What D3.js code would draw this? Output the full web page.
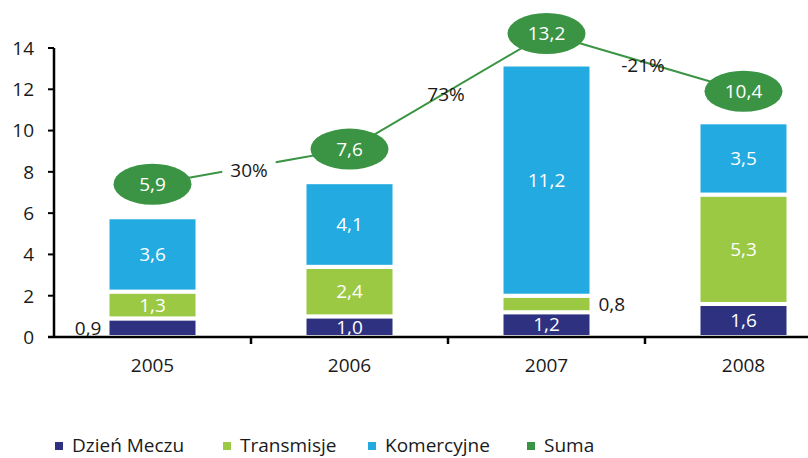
<!DOCTYPE html>
<html>
<head>
<meta charset="utf-8">
<script src="https://cdn.jsdelivr.net/npm/d3@7"></script>
<style>
  body { margin: 0; background: #fff; }
  svg { display: block; font-family: "Open Sans", "Noto Sans", sans-serif; }
</style>
</head>
<body>
<svg width="808" height="458"></svg>
<script>
// chart values
const years = ["2005", "2006", "2007", "2008"];
const dzienMeczu = [0.9, 1.0, 1.2, 1.6];
const transmisje = [1.3, 2.4, 0.8, 5.3];
const komercyjne = [3.6, 4.1, 11.2, 3.5];
const suma = [5.9, 7.6, 13.2, 10.4];
const growth = ["30%", "73%", "-21%"];
const yTicks = [0, 2, 4, 6, 8, 10, 12, 14];
const seriesNames = ["Dzień Meczu", "Transmisje", "Komercyjne", "Suma"];

const colors = {
    "Dzień Meczu": "#2e3180",
    "Transmisje": "#9bc943",
    "Komercyjne": "#22aae1",
    "Suma": "#3a9444"
};
// small segments get their label outside the bar
const outsideSide = { "Dzień Meczu": "left", "Transmisje": "right" };

const fs = "19px";
const svg = d3.select("svg");
const x0 = 54, x1 = 842, yBottom = 337, yTop = 48;

const x = d3.scaleBand().domain(years).range([x0, x1]).padding(0);
const y = d3.scaleLinear().domain([0, 14]).range([yBottom, yTop]);

const rows = years.map((yr, i) => ({
    year: yr,
    "Dzień Meczu": dzienMeczu[i],
    "Transmisje": transmisje[i],
    "Komercyjne": komercyjne[i]
}));
const stack = d3.stack().keys(seriesNames.slice(0, 3))(rows);

const barW = 90;

// bars
const layers = svg.append("g").selectAll("g")
    .data(stack)
    .enter().append("g")
    .attr("fill", d => colors[d.key]);

layers.selectAll("rect")
    .data(d => d)
    .enter().append("rect")
    .attr("x", d => x(d.data.year) + x.bandwidth() / 2 - barW / 2)
    .attr("width", barW)
    .attr("y", d => y(d[1]))
    .attr("height", d => y(d[0]) - y(d[1]))
    .attr("stroke", "#fff")
    .attr("stroke-width", 4);

// segment labels
stack.forEach(layer => {
    layer.forEach(d => {
        const v = d[1] - d[0];
        const cx = x(d.data.year) + x.bandwidth() / 2;
        const cy = (y(d[0]) + y(d[1])) / 2;
        const t = svg.append("text")
            .attr("y", cy)
            .attr("dy", "0.36em")
            .style("font-size", fs)
            .text(d3.format(".1f")(v).replace(".", ","));
        if (v < 1) {
            const side = outsideSide[layer.key];
            t.attr("x", side === "left" ? cx - barW / 2 - 6 : cx + barW / 2 + 7)
             .attr("text-anchor", side === "left" ? "end" : "start")
             .attr("fill", "#1a1a1a");
        } else {
            t.attr("x", cx).attr("text-anchor", "middle").attr("fill", "#fff");
        }
    });
});

// axes
svg.append("line")
    .attr("x1", x0).attr("x2", x0)
    .attr("y1", y(14)).attr("y2", yBottom)
    .attr("stroke", "#000").attr("stroke-width", 2.5);
svg.append("line")
    .attr("x1", x0 - 6).attr("x2", 808)
    .attr("y1", yBottom).attr("y2", yBottom)
    .attr("stroke", "#000").attr("stroke-width", 2.5);

svg.selectAll(".ytick")
    .data(yTicks)
    .enter().append("line")
    .attr("x1", x0 - 6).attr("x2", x0)
    .attr("y1", d => y(d)).attr("y2", d => y(d))
    .attr("stroke", "#000").attr("stroke-width", 2);

svg.selectAll(".ylab")
    .data(yTicks)
    .enter().append("text")
    .attr("x", 34)
    .attr("y", d => y(d))
    .attr("dy", "0.36em")
    .attr("text-anchor", "end")
    .style("font-size", fs)
    .attr("fill", "#1a1a1a")
    .text(d => d);

svg.selectAll(".xtick")
    .data(years.slice(1))
    .enter().append("line")
    .attr("x1", d => x(d)).attr("x2", d => x(d))
    .attr("y1", yBottom).attr("y2", yBottom + 7)
    .attr("stroke", "#000").attr("stroke-width", 2.5);

svg.selectAll(".xlab")
    .data(years)
    .enter().append("text")
    .attr("x", d => x(d) + x.bandwidth() / 2)
    .attr("y", 372)
    .attr("text-anchor", "middle")
    .style("font-size", fs)
    .attr("fill", "#1a1a1a")
    .text(d => d);

// total bubbles and growth connectors
const bubbles = years.map((yr, i) => ({
    cx: x(yr) + x.bandwidth() / 2,
    cy: y(suma[i]) - 31,
    v: suma[i]
}));

const conn = svg.append("g");
for (let i = 0; i < bubbles.length - 1; i++) {
    const a = bubbles[i], b = bubbles[i + 1];
    conn.append("line")
        .attr("x1", a.cx).attr("y1", a.cy)
        .attr("x2", b.cx).attr("y2", b.cy)
        .attr("stroke", colors["Suma"]).attr("stroke-width", 2);
    const mx = (a.cx + b.cx) / 2 - 2, my = (a.cy + b.cy) / 2 + 3;
    const t = conn.append("text")
        .attr("x", mx).attr("y", my)
        .attr("dy", "0.36em")
        .attr("text-anchor", "middle")
        .style("font-size", fs)
        .attr("fill", "#1a1a1a")
        .text(growth[i]);
    const bb = t.node().getBBox();
    conn.insert("rect", "text")
        .attr("x", bb.x - 8).attr("y", bb.y - 2)
        .attr("width", bb.width + 16).attr("height", bb.height + 4)
        .attr("fill", "#fff");
}

const bub = svg.append("g").selectAll("g")
    .data(bubbles)
    .enter().append("g");
bub.append("ellipse")
    .attr("cx", d => d.cx).attr("cy", d => d.cy)
    .attr("rx", 39).attr("ry", 20.5)
    .attr("fill", colors["Suma"]);
bub.append("text")
    .attr("x", d => d.cx).attr("y", d => d.cy)
    .attr("dy", "0.36em")
    .attr("text-anchor", "middle")
    .style("font-size", fs)
    .attr("fill", "#fff")
    .text(d => d3.format(".1f")(d.v).replace(".", ","));

// legend
const legendX = [55, 223, 368, 527];
const legend = svg.append("g").selectAll("g")
    .data(seriesNames)
    .enter().append("g")
    .attr("transform", (d, i) => `translate(${legendX[i]},442)`);
legend.append("rect")
    .attr("width", 8).attr("height", 8)
    .attr("fill", d => colors[d]);
legend.append("text")
    .attr("x", 17).attr("y", 4)
    .attr("dy", "0.34em")
    .style("font-size", fs)
    .attr("fill", "#1a1a1a")
    .text(d => d);
</script>
</body>
</html>
